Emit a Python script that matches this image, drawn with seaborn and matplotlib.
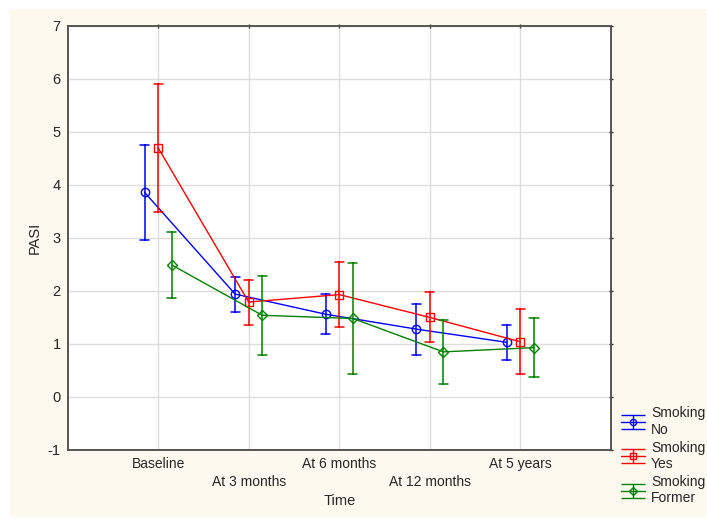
import numpy as np
import pandas as pd
import matplotlib
matplotlib.use("Agg")
import matplotlib.pyplot as plt
from matplotlib.patches import Rectangle
import seaborn as sns

# Time points and group labels
times = ["Baseline", "At 3 months", "At 6 months", "At 12 months", "At 5 years"]
groups = ["Smoking\nNo", "Smoking\nYes", "Smoking\nFormer"]

# Mean PASI per time point with lower / upper 95% limits
no_mean = [3.86, 1.94, 1.56, 1.28, 1.03]
no_low = [2.96, 1.60, 1.18, 0.80, 0.70]
no_high = [4.76, 2.26, 1.94, 1.75, 1.36]

yes_mean = [4.70, 1.79, 1.93, 1.50, 1.04]
yes_low = [3.48, 1.35, 1.32, 1.03, 0.43]
yes_high = [5.91, 2.21, 2.54, 1.97, 1.65]

former_mean = [2.49, 1.54, 1.48, 0.85, 0.93]
former_low = [1.86, 0.79, 0.43, 0.24, 0.38]
former_high = [3.11, 2.29, 2.52, 1.46, 1.49]

colors = ["#0000FF", "#FF0000", "#008000"]
markers = ["o", "s", "D"]
marker_sizes = {"o": 6, "s": 6, "D": 5}

# Long table: each cell holds (low, mean, high); median = mean, full range = CI
rows = []
for g, lo, mu, hi in zip(groups,
                         [no_low, yes_low, former_low],
                         [no_mean, yes_mean, former_mean],
                         [no_high, yes_high, former_high]):
    for t, a, b, c in zip(times, lo, mu, hi):
        for v in (a, b, c):
            rows.append({"Time": t, "PASI": v, "Group": g})
df = pd.DataFrame(rows)

sns.set_style("white")
plt.rcParams["font.family"] = ["Liberation Sans", "DejaVu Sans"]
plt.rcParams["axes.unicode_minus"] = False

fig = plt.figure(figsize=(7.07, 5.18), dpi=100, facecolor="white")
fig.patches.append(Rectangle((0.0141, 0.002), 0.99, 0.9806,
                             transform=fig.transFigure, facecolor="#FEF9EE",
                             edgecolor="none", zorder=-10))
ax = fig.add_axes([0.0955, 0.1313, 0.7687, 0.819])
ax.set_facecolor("white")

sns.pointplot(data=df, x="Time", y="PASI", hue="Group", order=times,
              hue_order=groups, estimator="median", errorbar=("pi", 100),
              dodge=0.3, palette=colors, markers=markers, linestyles="-",
              capsize=0.1, err_kws={"linewidth": 1.1}, linewidth=1.0,
              markersize=6, ax=ax, legend=False)

for ln in ax.lines:
    m = ln.get_marker()
    ln.set_markerfacecolor("none")
    ln.set_markeredgewidth(1.0)
    if m in marker_sizes:
        ln.set_markersize(marker_sizes[m])

ax.set_xlim(-1, 5)
ax.set_ylim(-1, 7)
ax.set_yticks(range(-1, 8))
ax.set_xticks(range(len(times)))
ax.set_xticklabels([t if i % 2 == 0 else "\n" + t for i, t in enumerate(times)],
                   fontsize=10, linespacing=1.35)
ax.tick_params(axis="y", labelsize=10.5, length=3, direction="inout", width=1)
ax.tick_params(axis="x", length=3, direction="inout", width=1)
ax.tick_params(top=True, right=True)
ax.grid(True, color="#DDDDDD", linewidth=1.0)
ax.set_axisbelow(True)
for s in ax.spines.values():
    s.set_color("#555555")
    s.set_linewidth(1.4)
ax.set_xlabel("Time", fontsize=10.5, labelpad=4)
ax.set_ylabel("PASI", fontsize=10.5, labelpad=4)

# Legend entries drawn as error-bar glyphs
handles = []
for c, m in zip(colors, markers):
    h = ax.errorbar([np.nan], [np.nan], yerr=[[1], [1]], color=c, marker=m,
                    mfc="none", ms=marker_sizes[m] * 0.75, capsize=8.6,
                    linewidth=1.0)
    handles.append(h)
fig.legend(handles, groups, loc="upper left", bbox_to_anchor=(0.868, 0.229),
           frameon=False, fontsize=10, handlelength=1.73, handletextpad=0.45,
           labelspacing=0.3, borderpad=0)

fig.savefig("out.png", dpi=100, facecolor="white")
